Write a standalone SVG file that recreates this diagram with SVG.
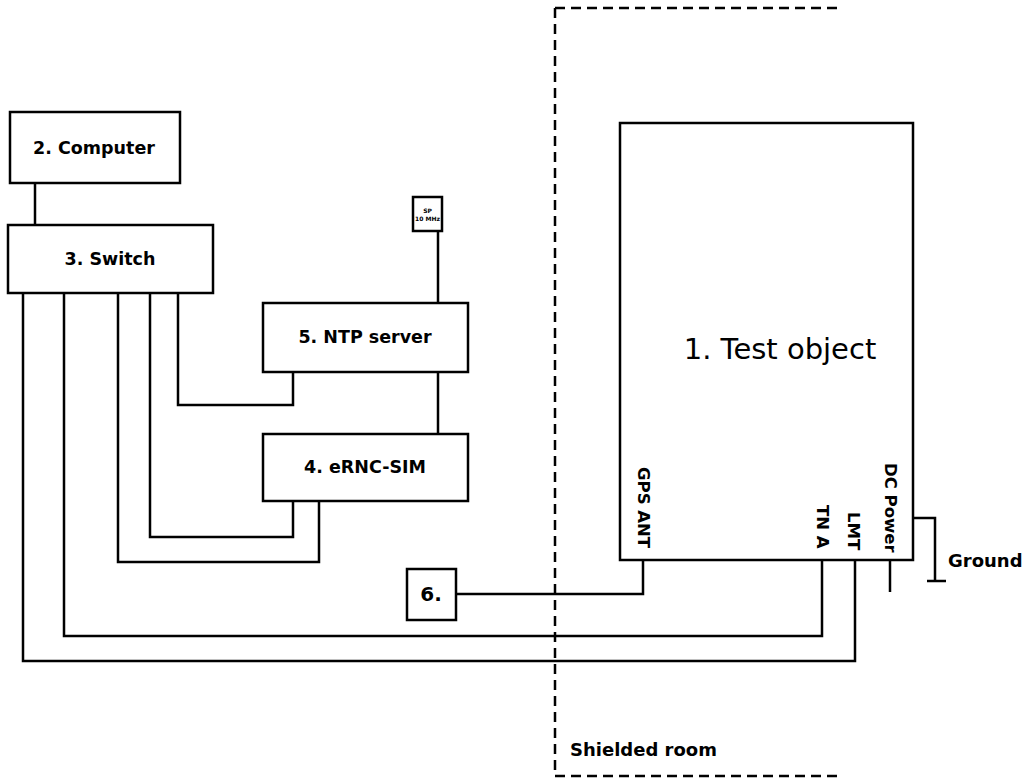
<svg xmlns="http://www.w3.org/2000/svg" width="1027" height="781" viewBox="0 0 1027 781">
<style>
.box{fill:#fff;stroke:#000;stroke-width:2.5}
.ln{fill:none;stroke:#000;stroke-width:2.5}
.dash{fill:none;stroke:#000;stroke-width:2.5;stroke-dasharray:10,6}
.t{font-family:"DejaVu Sans",Verdana,sans-serif;font-size:17.5px;font-weight:bold;fill:#000;text-anchor:middle;dominant-baseline:central}
.r{font-family:"DejaVu Sans",Verdana,sans-serif;font-size:16.5px;font-weight:bold;fill:#000;dominant-baseline:central}
</style>
<rect width="1027" height="781" fill="#fff"/>
<g id="connectors">
<path class="ln" d="M35,183V225"/>
<path class="ln" d="M438,231V303"/>
<path class="ln" d="M178,293V405H293V372"/>
<path class="ln" d="M438,372V434"/>
<path class="ln" d="M150,293V537H293V501"/>
<path class="ln" d="M118,293V562H319V501"/>
<path class="ln" d="M456,594H643V560"/>
<path class="ln" d="M64,293V636H822V560"/>
<path class="ln" d="M23,293V661H855V560"/>
<path class="ln" d="M890,560V592"/>
<path class="ln" d="M913,518H935V581M927,581H946"/>
</g>
<g id="shielded-room">
<path class="dash" d="M555,8H840M555,8V776H840"/>
<text class="r" x="570" y="749" style="font-size:18px">Shielded room</text>
</g>
<g id="computer"><rect class="box" x="10" y="112" width="170" height="71"/><text class="t" x="94" y="148">2. Computer</text></g>
<g id="switch"><rect class="box" x="8" y="225" width="205" height="68"/><text class="t" x="110" y="259">3. Switch</text></g>
<g id="sp"><rect class="box" x="413" y="197" width="29" height="34"/><text class="t" x="427.5" y="210" style="font-size:6px">SP</text><text class="t" x="427.5" y="218" style="font-size:6px">10 MHz</text></g>
<g id="ntp"><rect class="box" x="263" y="303" width="205" height="69"/><text class="t" x="365" y="337">5. NTP server</text></g>
<g id="ernc"><rect class="box" x="263" y="434" width="205" height="67"/><text class="t" x="365" y="467">4. eRNC-SIM</text></g>
<g id="gps"><rect class="box" x="407" y="569" width="49" height="51"/><text class="t" x="431" y="594" style="font-size:20px">6.</text></g>
<g id="test-object">
<rect class="box" x="620" y="123" width="293" height="437"/>
<text class="t" x="780" y="349" style="font-size:29px;font-weight:normal">1. Test object</text>
<text class="r" transform="translate(643,467) rotate(90)">GPS ANT</text>
<text class="r" transform="translate(822,505) rotate(90)">TN A</text>
<text class="r" transform="translate(853,512) rotate(90)">LMT</text>
<text class="r" transform="translate(890,463) rotate(90)">DC Power</text>
</g>
<g id="ground"><text class="r" x="948" y="560" style="font-size:18px">Ground</text></g>
</svg>
